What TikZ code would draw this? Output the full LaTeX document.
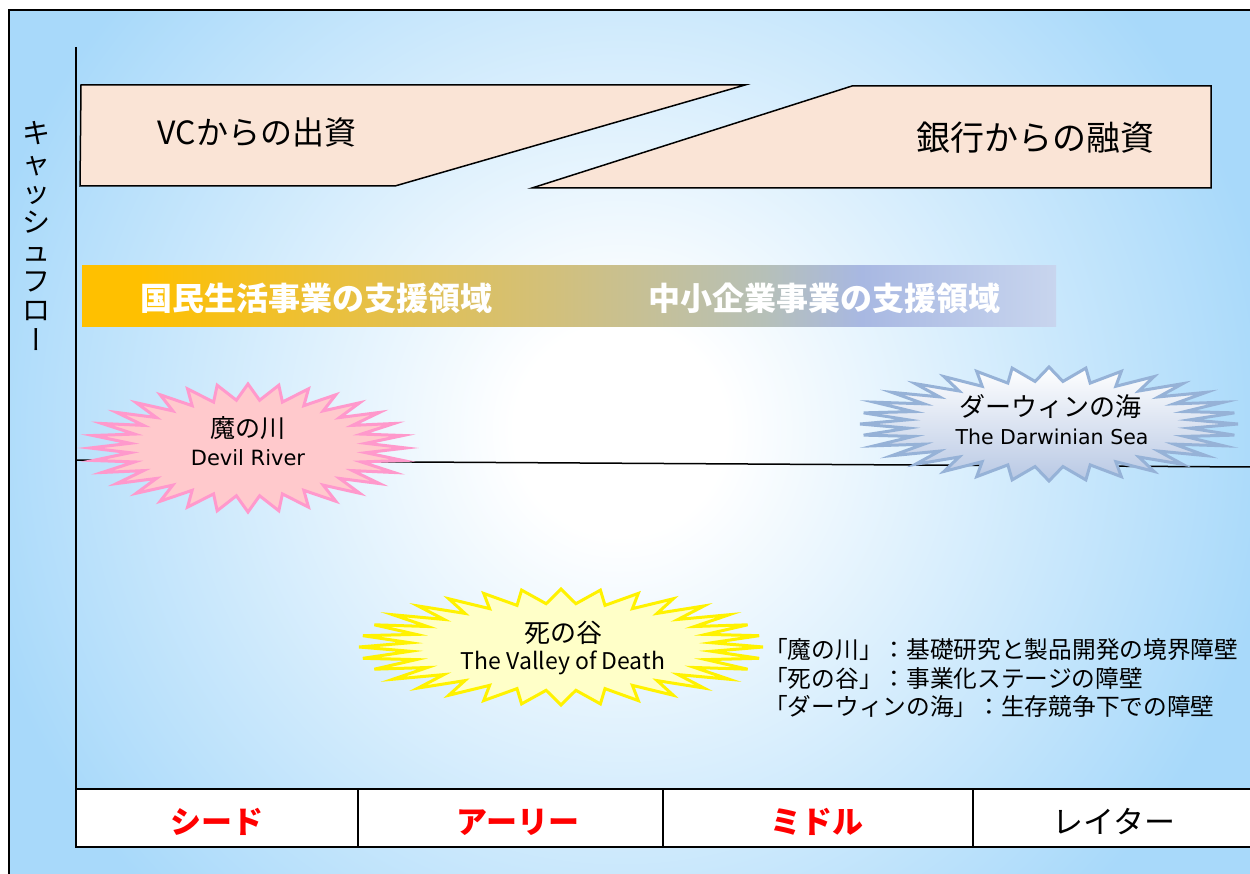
\documentclass[tikz,border=0pt]{standalone}
\usepackage{fontspec}
\setmainfont{Noto Sans CJK JP}
\newfontfamily\verd{DejaVu Sans}
\newfontfamily\vertfont[RawFeature=+vert]{Noto Sans CJK JP}
\definecolor{bgblue}{RGB}{168,217,250}
\definecolor{peach}{RGB}{250,228,214}
\definecolor{barA}{RGB}{255,192,0}
\definecolor{barB}{RGB}{235,192,58}
\definecolor{barC}{RGB}{208,192,128}
\definecolor{barD}{RGB}{182,192,184}
\definecolor{barE}{RGB}{168,184,226}
\definecolor{barF}{RGB}{200,213,238}
\definecolor{pinkfill}{RGB}{255,201,204}
\definecolor{pinkline}{RGB}{255,153,204}
\definecolor{yelfill}{RGB}{255,255,200}
\definecolor{yelline}{RGB}{255,242,0}
\definecolor{darfill}{RGB}{184,200,228}
\definecolor{darline}{RGB}{150,178,215}
\definecolor{stagered}{RGB}{255,0,0}
\pgfdeclareradialshading{bgshade}{\pgfpoint{0bp}{0bp}}{color(0bp)=(white); color(4bp)=(white); color(25bp)=(bgblue); color(50bp)=(bgblue)}
\pgfdeclarehorizontalshading{barshade}{100bp}{color(0bp)=(barA); color(25bp)=(barA); color(28bp)=(barA); color(37.5bp)=(barB); color(50bp)=(barC); color(60bp)=(barD); color(65bp)=(barE); color(75bp)=(barF); color(100bp)=(barF)}
\newcommand{\burstpath}[4]{plot[variable=\i, samples at={0,...,63}] ({#1+#3*(0.875+0.125*cos(\i*180))*cos(90+\i*5.625)}, {#2-#4*(0.875+0.125*cos(\i*180))*sin(90+\i*5.625)}) -- cycle}
\tikzset{
  lbl/.style={inner sep=0pt, outer sep=0pt, anchor=center},
  money/.style={draw=black, line width=1.5pt, fill=peach, line join=miter},
  burstline/.style={line width=3pt, line join=miter},
  cell/.style={draw=black, line width=1.5pt, fill=white},
  stage/.style={lbl, font=\fontsize{31}{36}\selectfont\bfseries, text=stagered},
  legend/.style={inner sep=0pt, anchor=west, font=\fontsize{23.7}{27}\selectfont}
}
\begin{document}
\begin{tikzpicture}[x=1pt, y=-1pt]
\useasboundingbox (0,0) rectangle (1250,874);
% background
\fill[white] (0,0) rectangle (1250,874);
\fill[bgblue] (8.5,10) rectangle (1252,876);
\begin{scope}
  \clip (8.5,10) rectangle (1252,876);
  \shade[shading=bgshade] (620,430) circle (660);
\end{scope}
\draw[line width=2pt] (8.5,876) -- (8.5,10) -- (1252,10);
% axis
\coordinate (axtop) at (76,47);
\coordinate (axbot) at (76,848);
\draw[line width=2pt] (axtop) -- (axbot);
% y label
\node[lbl, align=center, font=\fontsize{28}{29.5}\selectfont] (ylab) at (37,236)
  {キ\\ャ\\ッ\\シ\\ュ\\フ\\ロ\\{\vertfont ー}};
% money shapes
\draw[money] (81,85) -- (745,85) -- (395,186) -- (80,186) -- cycle;
\draw[money] (852,86) -- (1211,86) -- (1211,188) -- (532,188) -- cycle;
\node[lbl, font=\fontsize{32}{36}\selectfont] (vc) at (257,132) {VCからの出資};
\node[lbl, font=\fontsize{34}{40}\selectfont] (bank) at (1035,138) {銀行からの融資};
% support bar
\shade[shading=barshade] (82,266) rectangle (1056,327);
\node[lbl, text=white, font=\fontsize{32}{36}\selectfont\bfseries] (kokumin) at (316,298) {国民生活事業の支援領域};
\node[lbl, text=white, font=\fontsize{32}{36}\selectfont\bfseries] (chusho) at (824,298) {中小企業事業の支援領域};
% threshold line
\coordinate (thl) at (76,460);
\coordinate (thr) at (1252,467);
\draw[line width=1.5pt] (thl) -- (thr);
% bursts
\draw[burstline, draw=pinkline, fill=pinkfill] \burstpath{248}{448}{158}{64};
\draw[burstline, draw=darline, top color=white, bottom color=darfill] \burstpath{1049}{424}{189}{57};
\draw[burstline, draw=yelline, fill=yelfill] \burstpath{561}{647}{202}{58};
\node[lbl, font=\fontsize{25}{30}\selectfont] (devilJ) at (248,428) {魔の川};
\node[lbl, font=\verd\fontsize{21}{25}\selectfont] (devilE) at (248,458) {Devil River};
\node[lbl, font=\fontsize{26}{30}\selectfont] (darJ) at (1050,407) {ダーウィンの海};
\node[lbl, font=\verd\fontsize{20.5}{25}\selectfont] (darE) at (1052,437) {The Darwinian Sea};
\node[lbl, font=\fontsize{26}{30}\selectfont] (valJ) at (563,633) {死の谷};
\node[lbl, font=\fontsize{23}{27}\selectfont] (valE) at (563,663) {The Valley of Death};
% legend
\node[legend] (lg1) at (764,650) {「魔の川」：基礎研究と製品開発の境界障壁};
\node[legend] (lg2) at (764,678) {「死の谷」：事業化ステージの障壁};
\node[legend] (lg3) at (764,706) {「ダーウィンの海」：生存競争下での障壁};
% stage table
\draw[cell] (76,789) rectangle (358,847);
\draw[cell] (358,789) rectangle (663,847);
\draw[cell] (663,789) rectangle (973,847);
\draw[cell] (973,789) rectangle (1254,847);
\draw[line width=2.5pt] (76,789) -- (1252,789);
\draw[line width=2.5pt] (76,847) -- (1252,847);
\node[stage] (seed) at (217,822) {シード};
\node[stage] (early) at (518,822) {アーリー};
\node[stage] (middle) at (817,822) {ミドル};
\node[lbl, font=\fontsize{31}{36}\selectfont] (later) at (1114,822) {レイター};
\end{tikzpicture}
\end{document}
